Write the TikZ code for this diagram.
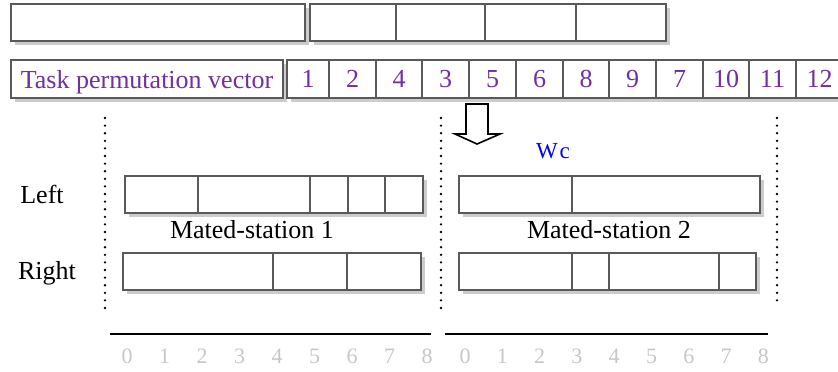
\documentclass[tikz,border=0pt]{standalone}
\usepackage{fontspec}
\setmainfont{Liberation Serif}
\usetikzlibrary{shadows}
\definecolor{vecpurple}{RGB}{112,48,160}
\newcommand{\labfont}{\fontsize{26}{30}\selectfont}
\newcommand{\tickfont}{\fontsize{22}{26}\selectfont}

\begin{document}
\begin{tikzpicture}[x=1pt, y=-1pt]
	\tikzstyle{cell}  = [rectangle, draw=black!65, line width=1.6pt, fill=white, inner sep=0pt, text depth=0pt, font=\labfont, minimum height=37pt, drop shadow={shadow xshift=3.5pt, shadow yshift=-3.5pt, fill=black!20, opacity=1}]
	\tikzstyle{vec}   = [cell, minimum height=38pt, text=vecpurple]
	\tikzstyle{lbl}   = [font=\labfont, anchor=base, inner sep=0pt]
	\tikzstyle{tick}  = [font=\tickfont, anchor=base, inner sep=0pt, text=black!22]
	\tikzstyle{sep}   = [line width=2.6pt, line cap=round, dash pattern=on 0pt off 7.6pt]
	\tikzstyle{axis}  = [line width=2.4pt]

	\useasboundingbox (0,0) rectangle (838,372);

	% top row
	\foreach \a/\b [count=\i] in {11/305, 310/396, 396/485, 485/576, 576/666}
		\node[cell, minimum width={(\b-\a)*1pt}] (top\i) at ({(\a+\b)/2}, 22.5) {};

	% task permutation vector
	\node[vec, minimum width=272pt] (vtxt) at (147, 79) {Task permutation vector};
	\foreach \t/\a/\b in {1/287/329, 2/329/376, 4/376/422, 3/422/469, 5/469/516, 6/516/563, 8/563/609, 9/609/656, 7/656/703, 10/703/749, 11/749/796, 12/796/843}
		\node[vec, minimum width={(\b-\a)*1pt}] (v\t) at ({(\a+\b)/2}, 79) {\t};

	\draw[line width=1.6pt, line join=miter] (466,104) -- (488,104) -- (488,134) -- (500,134) -- (477,144) -- (455,134) -- (466,134) -- cycle;
	\node[lbl, text=blue, font=\fontsize{23}{26}\selectfont] (wc) at (553,158) {W\kern2pt c};

	\foreach \x/\yb in {105/315, 441/314, 777/306}
		\draw[sep] (\x,118) -- (\x,\yb);

	% mated-station 1
	\foreach \a/\b [count=\i] in {125/198, 198/310, 310/348, 348/385, 385/423}
		\node[cell, minimum width={(\b-\a)*1pt}] (msL\i) at ({(\a+\b)/2}, 194.5) {};
	\foreach \a/\b [count=\i] in {123/273, 273/347, 347/421}
		\node[cell, minimum width={(\b-\a)*1pt}] (msR\i) at ({(\a+\b)/2}, 271.5) {};

	% mated-station 2
	\foreach \a/\b [count=\i] in {459/572, 572/760}
		\node[cell, minimum width={(\b-\a)*1pt}] (mtL\i) at ({(\a+\b)/2}, 194.5) {};
	\foreach \a/\b [count=\i] in {459/572, 572/609, 609/719, 719/756}
		\node[cell, minimum width={(\b-\a)*1pt}] (mtR\i) at ({(\a+\b)/2}, 271.5) {};

	\node[lbl] (left) at (42,203) {Left};
	\node[lbl] (right) at (47,279) {Right};
	\node[lbl] (ms1) at (252,238) {Mated-station 1};
	\node[lbl] (ms2) at (609,238) {Mated-station 2};

	% time axes
	\draw[axis] (110,334) -- (431,334);
	\draw[axis] (445,334) -- (768,334);
	\foreach \k in {0,...,8} {
		\node[tick] (ta\k) at ({127+37.5*\k}, 363) {\k};
		\node[tick] (tb\k) at ({465+37.3*\k}, 363) {\k};
	}
\end{tikzpicture}
\end{document}
